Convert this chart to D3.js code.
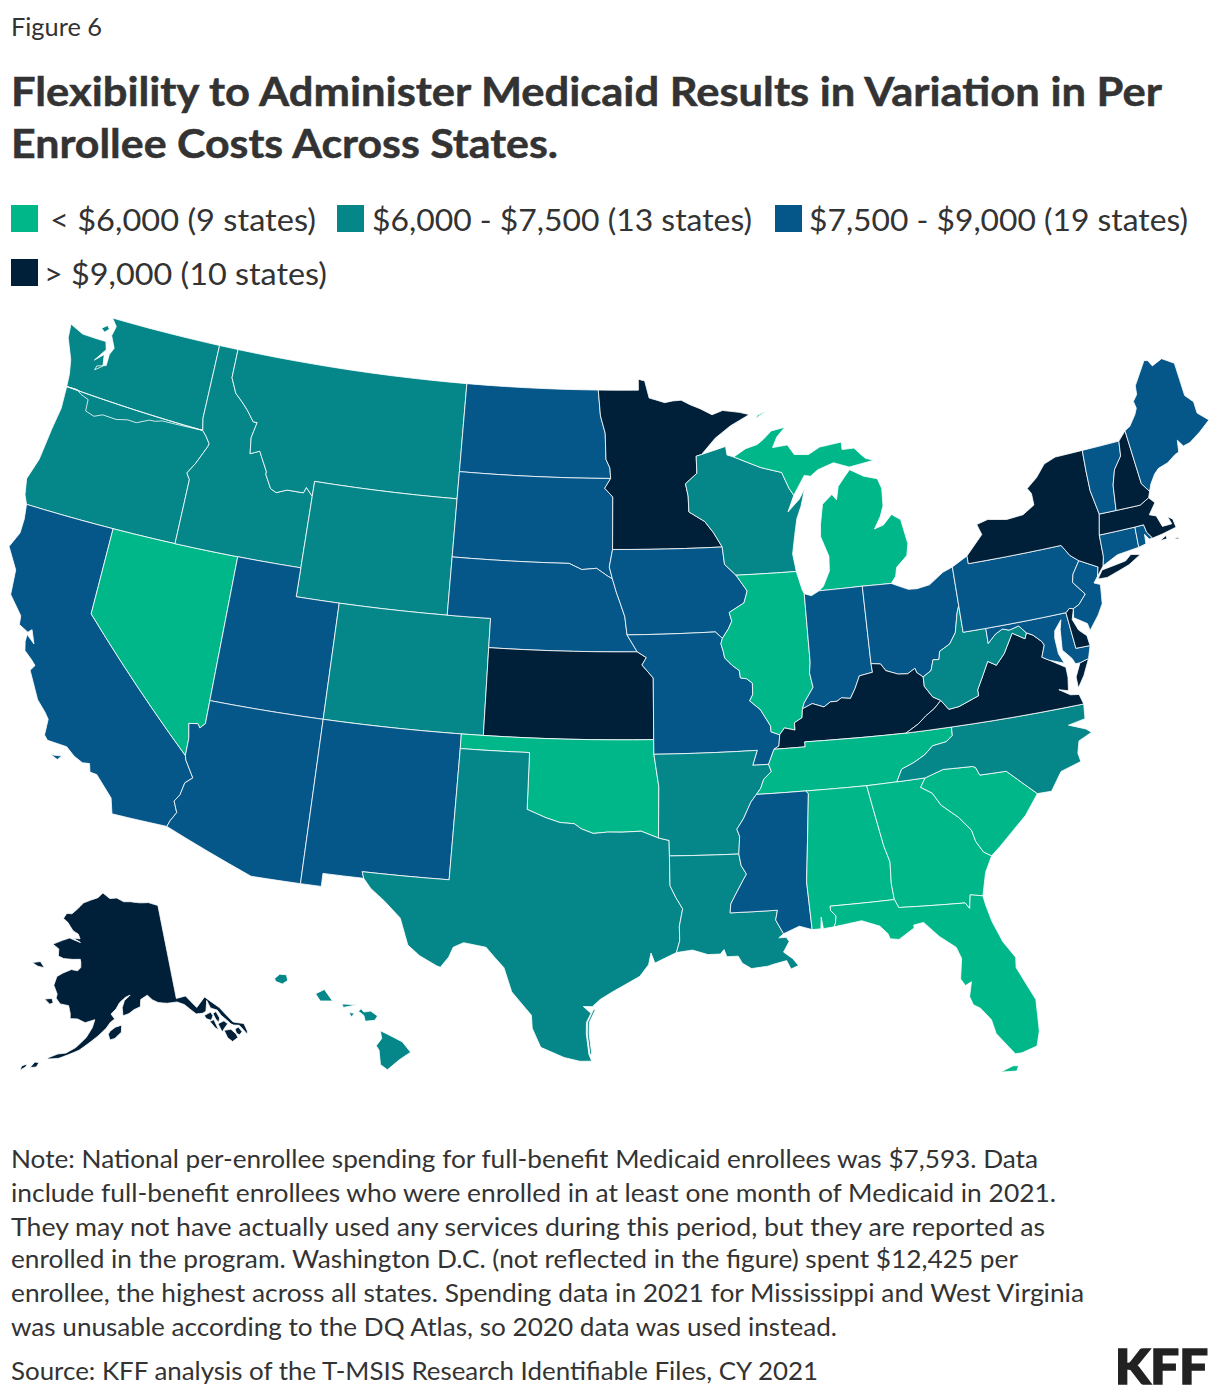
<!DOCTYPE html>
<html>
<head>
<meta charset="utf-8">
<script src="https://cdn.jsdelivr.net/npm/d3@7"></script>
<style>
  html, body { margin: 0; background: #fff; }
  svg { display: block; }
  text { font-family: Lato, "Noto Sans", sans-serif; fill: #333; }
</style>
</head>
<body>
<svg id="chart" width="1220" height="1398"></svg>
<script>
"use strict";

// spending tiers
const tierLabels = ["< $6,000 (9 states)", "$6,000 - $7,500 (13 states)", "$7,500 - $9,000 (19 states)", "> $9,000 (10 states)"];
const tierColors = ["#00b78a", "#058789", "#055789", "#002039"];
const tierLow = ["NV", "OK", "IL", "MI", "TN", "AL", "GA", "SC", "FL"];
const tierMid = ["WA", "OR", "ID", "MT", "WY", "CO", "TX", "LA", "AR", "WI", "WV", "NC", "HI"];
const tierHigh = ["CA", "UT", "AZ", "NM", "ND", "SD", "NE", "IA", "MO", "MS", "IN", "OH", "PA", "NJ", "MD", "CT", "RI", "VT", "ME"];
const tierTop = ["AK", "MN", "KS", "KY", "VA", "NY", "NH", "MA", "DE"];

const figureLabel = "Figure 6";
const titleLines = ["Flexibility to Administer Medicaid Results in Variation in Per", "Enrollee Costs Across States."];
const noteLines = [
  "Note: National per-enrollee spending for full-benefit Medicaid enrollees was $7,593. Data",
  "include full-benefit enrollees who were enrolled in at least one month of Medicaid in 2021.",
  "They may not have actually used any services during this period, but they are reported as",
  "enrolled in the program. Washington D.C. (not reflected in the figure) spent $12,425 per",
  "enrollee, the highest across all states. Spending data in 2021 for Mississippi and West Virginia",
  "was unusable according to the DQ Atlas, so 2020 data was used instead."
];
const sourceLine = "Source: KFF analysis of the T-MSIS Research Identifiable Files, CY 2021";

// shared state lines as [lon, lat], so neighbours meet exactly
const waOr = [[-116.92,46],[-118.98,46],[-119.3,45.93],[-119.6,45.92],[-120.2,45.72],[-120.65,45.74],[-121.2,45.65],[-121.9,45.68],[-122.3,45.55],[-122.76,45.65],[-122.8,46.05],[-123.2,46.15],[-123.45,46.27],[-124,46.27]];
const waId = [[-117.03,49],[-117.04,46.42],[-116.92,46]];
const orCa = [[-124.2,42],[-120,42]];
const orNv = [[-120,42],[-117.03,42]];
const orId = [[-117.03,42],[-117.03,43.83],[-117.03,44.25],[-117.22,44.45],[-116.9,44.85],[-116.5,45.5],[-116.47,45.6],[-116.7,45.83],[-116.92,46]];
const idMt = [[-116.05,49],[-116.05,48],[-115.7,47.5],[-115.3,47.25],[-114.95,47],[-114.55,46.65],[-114.35,46.65],[-114.5,46.1],[-114.4,45.55],[-113.95,45.7],[-113.8,45.5],[-113.45,45.05],[-113.45,44.95],[-113.1,44.5],[-112.8,44.4],[-112.3,44.55],[-111.5,44.55],[-111.4,44.75],[-111.05,44.48]];
const idWy = [[-111.05,44.48],[-111.05,42]];
const idUt = [[-111.05,42],[-114.04,42]];
const idNv = [[-114.04,42],[-117.03,42]];
const ndMt = [[-104.05,49],[-104.05,45.94]];
const sdMt = [[-104.05,45.94],[-104.05,45]];
const mtWy = [[-104.05,45],[-111.05,45],[-111.05,44.48]];
const wyDak = [[-104.05,45],[-104.05,43]];
const wyNe = [[-104.05,43],[-104.05,41]];
const wyCo = [[-104.05,41],[-109.05,41]];
const wyUt = [[-109.05,41],[-111.05,41],[-111.05,42]];
const utCo = [[-109.05,41],[-109.05,37]];
const utAz = [[-109.05,37],[-114.05,37]];
const utNv = [[-114.05,37],[-114.04,42]];
const coNe = [[-104.05,41],[-102.05,41],[-102.05,40]];
const coKs = [[-102.05,40],[-102.04,37]];
const coOk = [[-102.04,37],[-103,37]];
const coNm = [[-103,37],[-109.05,37]];
const nmOk = [[-103,37],[-103,36.5]];
const nmTx = [[-103,36.5],[-103.06,32],[-106.62,32]];
const azNm = [[-109.05,31.33],[-109.05,37]];
const azCa = [[-114.81,32.5],[-114.72,32.72],[-114.52,33.03],[-114.72,33.4],[-114.53,33.65],[-114.43,34.08],[-114.14,34.3],[-114.57,34.85],[-114.63,35]];
const nvAz = [[-114.05,37],[-114.05,36.2],[-114.25,36.02],[-114.37,36.15],[-114.75,36.1],[-114.63,35.6],[-114.63,35]];
const nvCa = [[-114.63,35],[-120,39],[-120,42]];
const mnNd = [[-96.56,45.94],[-96.6,46.3],[-96.8,46.6],[-96.85,47.5],[-97.1,48.1],[-97.23,49]];
const ndSd = [[-96.56,45.94],[-104.05,45.94]];
const neSd = [[-104.05,43],[-98.5,43],[-97.9,42.8],[-97.2,42.85],[-96.7,42.6],[-96.45,42.49]];
const iaSd = [[-96.45,42.49],[-96.6,42.9],[-96.45,43.5]];
const mnSd = [[-96.45,43.5],[-96.45,45.3],[-96.85,45.6],[-96.56,45.94]];
const neIa = [[-96.45,42.49],[-96.25,42],[-96.1,41.7],[-95.87,41.2],[-95.77,40.58]];
const neMo = [[-95.77,40.58],[-95.31,40]];
const neKs = [[-95.31,40],[-102.05,40]];
const ksMo = [[-95.31,40],[-94.9,39.8],[-95.1,39.55],[-94.6,39.1],[-94.62,37]];
const ksOk = [[-94.62,37],[-102.04,37]];
const okMo = [[-94.62,37],[-94.62,36.5]];
const okAr = [[-94.62,36.5],[-94.43,35.4],[-94.48,33.64]];
const okTx = [[-94.48,33.64],[-95.2,33.88],[-96,33.85],[-96.6,33.85],[-97.2,33.8],[-97.7,33.95],[-98,34.12],[-98.6,34.15],[-99.2,34.3],[-100,34.56],[-100,36.5],[-103,36.5]];
const arTx = [[-94.48,33.64],[-94.04,33.55],[-94.04,33.02]];
const laTx = [[-94.04,33.02],[-94.04,32],[-93.82,31.6],[-93.55,31.2],[-93.7,30.6],[-93.7,30.1],[-93.84,29.7]];
const arMo = [[-94.62,36.5],[-90.15,36.5],[-90.38,36],[-89.7,36]];
const arTn = [[-89.7,36],[-89.6,35.75],[-89.95,35.5],[-90.1,35.2],[-90.3,35]];
const arMs = [[-90.3,35],[-90.55,34.75],[-90.9,34.2],[-91.2,33.85],[-91.1,33.6],[-91.17,33]];
const arLa = [[-91.17,33],[-94.04,33.02]];
const laMs = [[-91.17,33],[-91.1,32.6],[-90.9,32.3],[-91.05,32.1],[-91.4,31.6],[-91.6,31.3],[-91.64,31],[-89.73,31],[-89.83,30.67],[-89.55,30.18]];
const iaMo = [[-95.77,40.58],[-91.73,40.61],[-91.42,40.38]];
const moIl = [[-91.42,40.38],[-91.5,40.2],[-91.41,39.93],[-91.36,39.71],[-91.05,39.45],[-90.73,39.25],[-90.7,39],[-90.43,38.96],[-90.18,38.8],[-90.2,38.4],[-90.35,38.2],[-89.9,37.88],[-89.5,37.3],[-89.5,37.1],[-89.13,36.98]];
const moKy = [[-89.13,36.98],[-89.2,36.6],[-89.42,36.5]];
const moTn = [[-89.42,36.5],[-89.7,36]];
const iaMn = [[-96.45,43.5],[-91.22,43.5]];
const iaWi = [[-91.22,43.5],[-91.15,42.9],[-90.64,42.51]];
const iaIl = [[-90.64,42.51],[-90.16,41.95],[-90.34,41.55],[-91.05,41.25],[-90.95,40.95],[-91.12,40.7],[-91.42,40.38]];
const mnWi = [[-92.02,46.71],[-92.29,46.66],[-92.29,46.07],[-92.87,45.72],[-92.76,45.3],[-92.75,44.75],[-92,44.4],[-91.6,44],[-91.22,43.5]];
const wiMi = [[-90.42,46.57],[-89.1,46.14],[-88.1,45.92],[-87.8,45.35],[-87.6,45.1]];
const wiIl = [[-87.8,42.49],[-90.64,42.51]];
const ilIn = [[-87.52,41.71],[-87.53,39.35],[-87.6,39],[-87.5,38.5],[-87.95,38],[-88.05,37.8]];
const ilKy = [[-88.05,37.8],[-88.1,37.5],[-88.45,37.35],[-88.45,37.1],[-88.9,37.2],[-89.13,36.98]];
const inMi = [[-86.82,41.76],[-84.8,41.76]];
const inOh = [[-84.8,41.76],[-84.82,39.1]];
const inKy = [[-84.82,39.1],[-84.8,38.8],[-85.4,38.73],[-85.65,38.32],[-85.9,38],[-86.3,38.05],[-86.5,37.95],[-86.8,37.95],[-87.1,37.8],[-87.6,37.95],[-88.05,37.8]];
const ohMi = [[-84.8,41.76],[-83.45,41.73]];
const ohPa = [[-80.52,41.98],[-80.52,40.64]];
const ohWv = [[-80.52,40.64],[-80.65,40.4],[-80.87,39.75],[-81.2,39.4],[-81.7,39.2],[-81.78,38.93],[-82.05,38.95],[-82.2,38.6],[-82.59,38.42]];
const ohKy = [[-82.59,38.42],[-82.85,38.6],[-82.9,38.75],[-83.25,38.6],[-83.67,38.63],[-84.2,38.8],[-84.4,39.05],[-84.82,39.1]];
const kyWv = [[-82.59,38.42],[-82.6,38.1],[-82.3,37.7],[-81.97,37.54]];
const kyVa = [[-81.97,37.54],[-82.3,37.3],[-82.7,37.1],[-83.1,36.85],[-83.67,36.6]];
const kyTn = [[-83.67,36.6],[-86.5,36.65],[-88.07,36.67],[-88.07,36.5],[-89.42,36.5]];
const tnVa = [[-83.67,36.6],[-81.68,36.59]];
const tnNc = [[-81.68,36.59],[-81.7,36.3],[-82,36.12],[-82.6,36.05],[-83,35.78],[-83.5,35.57],[-84.05,35.4],[-84.32,34.99]];
const tnGa = [[-84.32,34.99],[-85.61,34.98]];
const tnAl = [[-85.61,34.98],[-88.2,35]];
const tnMs = [[-88.2,35],[-90.3,35]];
const msAl = [[-88.2,35],[-88.1,34.9],[-88.47,31.9],[-88.4,30.25]];
const alGa = [[-85.61,34.98],[-85.18,32.87],[-85,32.3],[-85.05,31.55],[-85,31]];
const alFl = [[-85,31],[-87.6,31],[-87.6,30.85],[-87.4,30.65],[-87.45,30.4],[-87.52,30.28]];
const gaNc = [[-84.32,34.99],[-83.11,35]];
const gaSc = [[-83.11,35],[-83.35,34.7],[-82.9,34.45],[-82.6,34],[-81.95,33.5],[-81.5,33],[-81.4,32.6],[-81.15,32.2],[-80.85,32.03]];
const gaFl = [[-81.45,30.72],[-81.95,30.82],[-82.05,30.36],[-82.2,30.57],[-84.86,30.71],[-85,31]];
const scNc = [[-83.11,35],[-82.3,35.2],[-81.05,35.15],[-80.93,35.1],[-80.8,34.82],[-79.67,34.8],[-78.55,33.86]];
const ncVa = [[-75.87,36.55],[-81.68,36.59]];
const vaWv = [[-81.97,37.54],[-81.68,37.2],[-81.22,37.24],[-80.3,37.5],[-80.3,37.7],[-79.95,38.18],[-79.65,38.6],[-79.3,38.42],[-78.87,38.76],[-78.35,39.4],[-77.83,39.13],[-77.72,39.32]];
const vaPotomac = [[-77.72,39.32],[-77.45,39.2],[-77.12,38.93],[-77.04,38.79],[-77.25,38.4],[-76.95,38.25]];
const mdWv = [[-77.72,39.32],[-78,39.6],[-78.45,39.52],[-78.75,39.6],[-79.1,39.47],[-79.49,39.2],[-79.48,39.72]];
const paWv = [[-79.48,39.72],[-80.52,39.72],[-80.52,40.64]];
const paMd = [[-75.79,39.72],[-79.48,39.72]];
const mdDe = [[-75.79,39.72],[-75.69,38.46],[-75.05,38.45]];
const dePa = [[-75.42,39.8],[-75.6,39.84],[-75.79,39.72]];
const njPa = [[-74.7,41.36],[-75.1,40.95],[-75.2,40.68],[-74.75,40.2],[-75.13,39.9],[-75.42,39.8]];
const nyPa = [[-79.76,42.27],[-79.76,42],[-75.35,42],[-75.05,41.6],[-74.7,41.36]];
const njNy = [[-74.7,41.36],[-73.9,41],[-74.02,40.7]];
const nyVt = [[-73.34,45.01],[-73.4,44.3],[-73.43,43.6],[-73.27,42.75]];
const nyMa = [[-73.27,42.75],[-73.5,42.05]];
const nyCt = [[-73.5,42.05],[-73.55,41.3],[-73.66,41]];
const nhVt = [[-71.5,45.01],[-71.6,44.5],[-72.05,44.1],[-72.3,43.6],[-72.46,42.73]];
const maVt = [[-72.46,42.73],[-73.27,42.75]];
const nhMe = [[-71.08,45.3],[-70.98,43.4],[-70.7,43.07]];
const maNh = [[-70.82,42.87],[-71.3,42.7],[-72.46,42.73]];
const maCt = [[-73.5,42.05],[-71.8,42.02]];
const maRi = [[-71.8,42.02],[-71.38,42.02],[-71.33,41.75],[-71.13,41.5]];
const ctRi = [[-71.86,41.32],[-71.8,42.02]];

// coasts and outer borders
const waOuter = [[-124,46.27],[-124.05,46.7],[-124.2,47.2],[-124.65,47.9],[-124.72,48.38],[-124,48.17],[-123.15,48.15],[-122.75,48.15],[-122.62,47.88],[-123.05,47.42],[-122.65,47.7],[-122.55,47.3],[-122.9,47.1],[-122.85,47.25],[-122.4,47.35],[-122.4,47.75],[-122.25,48],[-122.55,48.4],[-122.45,48.75],[-122.76,49],[-117.03,49]];
const orCoast = [[-124,46.27],[-123.95,45.5],[-124.1,44.7],[-124.25,43.6],[-124.55,42.84],[-124.4,42.3],[-124.2,42]];
const caOuter = [[-114.81,32.5],[-117.12,32.53],[-117.3,33.05],[-118.1,33.72],[-118.4,33.75],[-118.5,34.03],[-118.8,34],[-119.2,34.15],[-119.6,34.4],[-120.45,34.45],[-120.63,34.6],[-120.65,35.15],[-120.85,35.35],[-121.3,35.7],[-121.95,36.6],[-121.8,36.8],[-122,36.95],[-122.4,37.2],[-122.5,37.5],[-122.5,37.75],[-122.1,37.5],[-122.35,37.95],[-122.5,37.83],[-122.95,38],[-123,38.3],[-123.7,38.9],[-123.8,39.75],[-124.4,40.45],[-124.1,41],[-124.1,41.5],[-124.2,42]];
const azMex = [[-109.05,31.33],[-111.07,31.33],[-114.81,32.5]];
const nmMex = [[-106.62,32],[-106.53,31.78],[-108.2,31.78],[-108.2,31.33],[-109.05,31.33]];
const txCoast = [[-93.84,29.7],[-94.7,29.35],[-94.85,29.7],[-94.95,29.3],[-95.3,28.9],[-96.4,28.35],[-96.85,28.1],[-97.15,27.85],[-97.5,27.85],[-97.2,27.62],[-97.37,27.3],[-97.37,26.9],[-97.26,26.2],[-97.15,25.96],[-97.6,25.95],[-98.2,26.07],[-99.1,26.4],[-99.45,27.05],[-99.5,27.5],[-100.3,28.28],[-100.65,29.1],[-101.05,29.45],[-101.4,29.77],[-102.3,29.88],[-102.7,29.7],[-102.85,29.35],[-103.15,28.98],[-103.3,29.02],[-104,29.32],[-104.5,29.65],[-104.9,30.55],[-105.6,31.08],[-106.2,31.46],[-106.53,31.78],[-106.62,32]];
const laCoast = [[-89.55,30.18],[-89.75,30.05],[-89.45,30.05],[-89.35,29.9],[-89.6,29.55],[-89.25,29.3],[-89.05,29.05],[-89.35,28.95],[-89.5,29.25],[-90.05,29.15],[-90.25,29.1],[-90.9,29.05],[-91.25,29.25],[-91.4,29.5],[-91.85,29.5],[-91.95,29.75],[-92.1,29.6],[-92.6,29.6],[-93.2,29.77],[-93.84,29.7]];
const msCoast = [[-88.4,30.25],[-88.9,30.4],[-89.55,30.18]];
const alCoast = [[-87.52,30.28],[-87.95,30.25],[-88,30.65],[-88.05,30.25],[-88.4,30.25]];
const flCoast = [[-81.45,30.72],[-81.4,30.4],[-81.25,29.8],[-80.95,29.05],[-80.55,28.45],[-80.6,28.1],[-80.05,26.9],[-80.12,25.8],[-80.3,25.3],[-80.9,25.15],[-81.15,25.15],[-81.75,25.95],[-81.85,26.45],[-82.2,26.9],[-82.45,27.05],[-82.55,27.35],[-82.4,27.85],[-82.65,27.75],[-82.8,28],[-82.65,28.7],[-82.8,29.1],[-83.4,29.55],[-83.95,30.1],[-84.35,30.05],[-84.35,29.95],[-85,29.62],[-85.35,29.68],[-85.4,29.85],[-85.7,30.15],[-86.4,30.4],[-87.52,30.28]];
const gaCoast = [[-80.85,32.03],[-81.2,31.5],[-81.45,30.72]];
const scCoast = [[-78.55,33.86],[-79.2,33.2],[-79.9,32.7],[-80.45,32.3],[-80.85,32.03]];
const ncCoast = [[-78.55,33.86],[-77.95,33.85],[-77.4,34.45],[-76.5,34.65],[-76.55,34.95],[-76.4,35.35],[-75.8,35.55],[-76,35.7],[-76.7,35.95],[-75.95,36.05],[-75.87,36.55]];
const vaCoast = [[-76.95,38.25],[-76.3,37.9],[-76.3,37.55],[-76.4,37.1],[-76.8,37.2],[-76.35,36.95],[-75.98,36.9],[-75.87,36.55]];
const mdCoast = [[-76.95,38.25],[-76.33,38.05],[-76.5,38.4],[-76.52,38.95],[-76.45,39.2],[-76.08,39.52],[-76.2,39.2],[-76.25,38.85],[-76.3,38.5],[-75.95,38.15],[-75.85,37.95],[-75.65,37.95],[-75.24,38.03],[-75.05,38.45]];
const deCoast = [[-75.05,38.45],[-75.09,38.8],[-75.4,39.05],[-75.58,39.45],[-75.42,39.8]];
const njCoast = [[-74.02,40.7],[-74.25,40.5],[-73.98,40.4],[-74.1,39.75],[-74.4,39.4],[-74.9,38.95],[-74.95,39.2],[-75.5,39.5],[-75.42,39.8]];
const nyLake = [[-79.76,42.27],[-78.9,42.9],[-79.05,43.27],[-78.5,43.37],[-77.6,43.25],[-76.8,43.3],[-76.2,43.55],[-76.2,43.95],[-76.35,44.15],[-75.8,44.45],[-75.3,44.85],[-74.7,45],[-73.34,45.01]];
const nyCoast = [[-73.66,41],[-73.9,40.8],[-74.02,40.7]];
const ctCoast = [[-73.66,41],[-72.9,41.25],[-71.86,41.32]];
const riCoast = [[-71.86,41.32],[-71.5,41.37],[-71.45,41.7],[-71.3,41.5],[-71.13,41.5]];
const maCoast = [[-71.13,41.5],[-70.65,41.55],[-69.95,41.65],[-70,41.95],[-70.2,42.07],[-70.1,41.8],[-70.55,41.8],[-70.7,42.2],[-71,42.3],[-70.6,42.65],[-70.82,42.87]];
const meOuter = [[-71.08,45.3],[-70.8,45.4],[-70.4,45.75],[-70.25,45.95],[-70.3,46.2],[-70.05,46.4],[-70,46.7],[-69.23,47.46],[-69.05,47.42],[-68.9,47.2],[-68.35,47.35],[-67.8,47.07],[-67.78,45.9],[-67.45,45.6],[-67.45,45.2],[-67,44.85],[-67.6,44.55],[-68.2,44.3],[-68.55,44.25],[-68.75,44.5],[-68.85,44.1],[-69.05,44.05],[-69.5,43.85],[-70,43.75],[-70.25,43.6],[-70.55,43.3],[-70.7,43.07]];
const mnOuter = [[-97.23,49],[-95.15,49],[-95.15,49.38],[-94.82,49.32],[-94.6,48.72],[-94.25,48.65],[-93.8,48.55],[-93.4,48.6],[-92.95,48.62],[-92.5,48.45],[-92,48.3],[-91.4,48.07],[-90.85,48.2],[-90,48.1],[-89.5,48],[-90.5,47.65],[-91.3,47.25],[-92.02,46.71]];
const wiSuperior = [[-92.02,46.71],[-91.2,46.87],[-90.8,46.95],[-90.75,46.65],[-90.42,46.57]];
const wiMichigan = [[-87.6,45.1],[-87.95,44.55],[-87.35,44.95],[-87.05,45.28],[-87.3,44.7],[-87.55,44.3],[-87.72,43.75],[-87.9,43.1],[-87.8,42.49]];
const ilLake = [[-87.8,42.49],[-87.6,41.85],[-87.52,41.71]];
const inLake = [[-87.52,41.71],[-87.2,41.62],[-86.82,41.76]];
const ohLake = [[-83.45,41.73],[-83.1,41.6],[-82.7,41.45],[-82.3,41.43],[-81.7,41.5],[-81,41.85],[-80.52,41.98]];
const paLake = [[-80.52,41.98],[-79.76,42.27]];
const miLower = [[-83.45,41.73],[-83.2,41.95],[-83.1,42.25],[-82.55,42.6],[-82.42,43],[-82.6,43.85],[-83,44.07],[-83.45,43.75],[-83.9,43.65],[-83.55,44.05],[-83.35,44.4],[-83.3,45],[-83.45,45.35],[-84.1,45.5],[-84.75,45.78],[-85.1,45.5],[-85.4,45.25],[-85.55,44.8],[-85.75,45],[-86.25,44.7],[-86.45,44],[-86.5,43.6],[-86.2,42.9],[-86.25,42.4],[-86.6,41.9],[-86.82,41.76]];
const miUpper = [[-87.6,45.1],[-87,45.75],[-86.7,45.7],[-86.3,45.9],[-85.5,46.08],[-84.75,45.87],[-84,45.95],[-83.5,46],[-83.9,46.1],[-84.1,46.25],[-84.4,46.5],[-85,46.5],[-85,46.76],[-86.1,46.67],[-86.7,46.45],[-87.4,46.5],[-87.7,46.85],[-88.45,46.8],[-88.2,47.15],[-87.75,47.47],[-88.45,47.38],[-88.9,47.1],[-89.2,46.95],[-89.8,46.83],[-90.42,46.57]];
const akMainland = [[-141,69.65],[-143.5,70.1],[-146,70.2],[-148.5,70.4],[-150.5,70.45],[-152.5,70.85],[-154.5,70.8],[-156.6,71.35],[-158,70.85],[-160,70.55],[-162,70.2],[-163.5,69.5],[-164.8,68.95],[-166.2,68.9],[-166.8,68.35],[-165.5,68.05],[-163.8,67.3],[-162.4,67.05],[-161.8,66.6],[-163.5,66.6],[-161.6,66.25],[-164.4,66.55],[-166,66.2],[-168.1,65.65],[-166.5,65.3],[-166.3,64.6],[-165,64.45],[-163,64.5],[-161.2,64.6],[-161,64.3],[-160.9,63.8],[-161.5,63.45],[-162.9,63.5],[-164.6,63.05],[-165.8,62.6],[-166.1,61.7],[-165.1,60.9],[-165.2,60.5],[-164.2,60],[-162.5,59.95],[-162,59.2],[-161.9,58.7],[-160.5,58.75],[-159,58.45],[-157.2,58.8],[-157.6,58],[-158.6,57],[-160.3,55.95],[-161.9,55.3],[-163.3,55.1],[-164.8,54.6],[-164.9,54.45],[-163,54.7],[-161.5,55.15],[-159.7,55.7],[-158.2,56.4],[-156.5,57.2],[-155,58],[-154.2,58.6],[-153.4,58.9],[-154.1,59.4],[-153.1,59.9],[-152.4,60.5],[-151.2,61],[-150.2,61.2],[-151,60.85],[-151.4,60.7],[-151.9,60],[-151.8,59.2],[-150.6,59.4],[-149.6,59.75],[-148.3,60],[-148.1,60.7],[-146.7,61.05],[-145.8,60.55],[-144.7,60.2],[-143,60],[-141,59.95],[-139.7,59.55],[-137.9,58.4],[-136.7,58.3],[-136,58.4],[-135.5,59.1],[-135.3,59.4],[-135,58.6],[-133.9,58.2],[-133.5,57.6],[-132.8,57],[-132.3,56.5],[-131.9,56.3],[-131,56.1],[-130.6,55.6],[-130.2,55],[-130,55.3],[-130.1,56.1],[-131.8,56.6],[-133.4,58.4],[-135.5,59.8],[-137.5,59],[-139.1,60.35],[-141,60.3]];

// whole rings are chained from the lines above, reversed where walked backwards
const rev = line => line.slice().reverse();
const chain = (...lines) => [lines.flat()];

const stateShapes = {
  WA: [chain(waOuter, waId, waOr), [[[-123.15,48.55],[-122.9,48.7],[-122.75,48.6],[-122.95,48.45]]]],
  OR: [chain(rev(waOr), orCoast, orCa, orNv, orId)],
  CA: [chain(orCa, rev(nvCa), rev(azCa), caOuter), [[[-120.15,34],[-119.7,34.05],[-119.85,33.9]]]],
  NV: [chain(orNv, rev(idNv), rev(utNv), nvAz, nvCa)],
  ID: [chain([[-117.03,49]], idMt, idWy, idUt, idNv, orId, rev(waId))],
  MT: [chain([[-116.05,49]], ndMt, sdMt, mtWy, rev(idMt))],
  WY: [chain(rev(mtWy), wyDak, wyNe, wyCo, wyUt, rev(idWy))],
  UT: [chain(rev(idUt), rev(wyUt), utCo, utAz, utNv)],
  AZ: [chain(rev(utAz), rev(azNm), azMex, azCa, rev(nvAz))],
  CO: [chain(rev(wyCo), coNe, coKs, coOk, coNm, rev(utCo))],
  NM: [chain(rev(coNm), nmOk, nmTx, nmMex, azNm)],
  ND: [chain([[-104.05,49]], rev(mnNd), ndSd, rev(ndMt))],
  SD: [chain(ndSd, sdMt, wyDak, neSd, iaSd, mnSd)],
  NE: [chain(neSd, neIa, neMo, neKs, rev(coNe), rev(wyNe))],
  KS: [chain(rev(neKs), ksMo, ksOk, rev(coKs))],
  OK: [chain(rev(coOk), rev(ksOk), okMo, okAr, okTx, rev(nmOk))],
  TX: [chain(rev(okTx), arTx, laTx, txCoast, rev(nmTx)), [[[-97.1,27.75],[-97.33,27.3],[-97.33,26.9],[-97.22,26.2],[-97.15,26.2],[-97.26,26.9],[-97.26,27.3],[-97.03,27.75]]]],
  MN: [chain(mnOuter, mnWi, rev(iaMn), mnSd, mnNd)],
  IA: [chain(iaMn, iaWi, iaIl, rev(iaMo), rev(neIa), iaSd)],
  MO: [chain(iaMo, moIl, moKy, moTn, rev(arMo), rev(okMo), rev(ksMo), rev(neMo))],
  AR: [chain(rev(okAr), arMo, arTn, arMs, arLa, rev(arTx))],
  LA: [chain(rev(arLa), laMs, laCoast, rev(laTx))],
  WI: [chain(wiSuperior, wiMi, wiMichigan, wiIl, rev(iaWi), rev(mnWi))],
  IL: [chain(rev(wiIl), ilLake, ilIn, ilKy, rev(moIl), rev(iaIl))],
  MI: [chain(inMi, ohMi, miLower), chain(wiMi, miUpper), [[[-89.2,47.85],[-88.45,48.15],[-88.6,48.1],[-89.1,47.95]]]],
  IN: [chain(inLake, inMi, inOh, inKy, rev(ilIn))],
  OH: [chain(ohMi, ohLake, ohPa, ohWv, ohKy, rev(inOh))],
  KY: [chain(rev(ohKy), kyWv, kyVa, kyTn, rev(moKy), rev(ilKy), rev(inKy))],
  TN: [chain(rev(kyTn), tnVa, tnNc, tnGa, tnAl, tnMs, rev(arTn), rev(moTn))],
  MS: [chain(rev(tnMs), msAl, msCoast, rev(laMs), rev(arMs))],
  AL: [chain(rev(tnAl), alGa, alFl, alCoast, rev(msAl))],
  GA: [chain(rev(tnGa), gaNc, gaSc, gaCoast, gaFl, rev(alGa))],
  FL: [chain(rev(gaFl), flCoast, rev(alFl)), [[[-81.8,24.6],[-81.3,24.75],[-81.1,24.72],[-81.2,24.55]]]],
  SC: [chain(scNc, scCoast, rev(gaSc))],
  NC: [chain(ncVa, tnNc, gaNc, scNc, ncCoast)],
  VA: [chain(vaPotomac, vaCoast, ncVa, rev(tnVa), rev(kyVa), vaWv), [[[-75.65,37.95],[-75.24,38.03],[-75.6,37.5],[-75.95,37.12],[-75.95,37.5]]]],
  WV: [chain(ohWv, kyWv, vaWv, mdWv, paWv)],
  MD: [chain([[-79.48,39.72]], mdDe, rev(mdCoast), rev(vaPotomac), mdWv)],
  DE: [chain(dePa, mdDe, deCoast)],
  PA: [chain(paLake, nyPa, njPa, dePa, paMd, paWv, rev(ohPa))],
  NJ: [chain(rev(njPa), njNy, njCoast)],
  NY: [chain(nyLake, nyVt, nyMa, nyCt, nyCoast, rev(njNy), rev(nyPa)), [[[-74.03,40.6],[-73.75,40.87],[-72.6,40.98],[-72.3,41.15],[-71.87,41.07],[-72.5,40.82],[-73.6,40.58]]]],
  CT: [chain(rev(maCt), nyCt, ctCoast, ctRi)],
  RI: [chain(rev(ctRi), riCoast, rev(maRi))],
  MA: [chain(maNh, maVt, nyMa, maCt, maRi, maCoast), [[[-70.83,41.35],[-70.5,41.47],[-70.5,41.35]]], [[[-70.2,41.3],[-69.97,41.3],[-70,41.24]]]],
  VT: [chain([[-73.34,45.01]], nhVt, maVt, rev(nyVt))],
  NH: [chain([[-71.5,45.01]], nhMe, maNh, rev(nhVt))],
  ME: [chain(meOuter, rev(nhMe))],
  AK: [
    chain(akMainland),
    [[[-154.6,57.4],[-154.3,57.7],[-153.3,58.1],[-152.1,58.3],[-152.2,57.6],[-153.4,57],[-154.3,56.85]]],
    [[[-167.4,60.2],[-166,60.4],[-165.6,60],[-166.2,59.8]]],
    [[[-171.7,63.4],[-170,63.7],[-168.8,63.2],[-170.3,63.2]]],
    [[[-136.5,58.05],[-135.2,58.2],[-134.95,57.8],[-135.5,57.4],[-136.3,57.7]]],
    [[[-135.8,57.35],[-135,57.4],[-134.7,56.3],[-135.2,56.6]]],
    [[[-134.85,58],[-134.2,58.1],[-133.9,57.4],[-134.3,57],[-134.65,57.4]]],
    [[[-134.5,56.9],[-133.3,57],[-132.85,56.6],[-133.6,56.3],[-134.2,56]]],
    [[[-133.8,56.1],[-132.6,56],[-132,55.4],[-131.9,55],[-133,54.8],[-133.6,55.3]]],
    [[[-131.9,55.9],[-131.2,55.95],[-130.9,55.4],[-131.5,55.2],[-131.9,55.45]]],
    [[[-166.9,53.95],[-166.2,53.95],[-166.5,53.5],[-167.5,53.3]]],
    [[[-168.9,53.3],[-168.1,53.6],[-168.2,53.3],[-169,52.85]]]
  ],
  HI: [
    [[[-155.9,20.27],[-155.6,20.13],[-155.1,19.88],[-154.8,19.52],[-155.2,19.27],[-155.65,18.92],[-155.9,19.1],[-155.95,19.6],[-156.05,19.75],[-155.85,20]]],
    [[[-156.7,20.95],[-156.6,21.03],[-156.5,20.92],[-156.25,20.95],[-156,20.78],[-156.1,20.63],[-156.45,20.6],[-156.5,20.8]]],
    [[[-157.3,21.2],[-156.75,21.17],[-157.25,21.08]]],
    [[[-157.05,20.9],[-156.85,20.88],[-156.95,20.75]]],
    [[[-158.27,21.55],[-158.1,21.3],[-157.65,21.3],[-157.8,21.5],[-157.95,21.7]]],
    [[[-159.78,22.07],[-159.6,22.22],[-159.35,22.2],[-159.3,22],[-159.5,21.88],[-159.75,21.97]]]
  ]
};

// long edges follow parallels, so walk them in small steps before projecting
function stepEdges(ring) {
  const closed = ring.concat([ring[0]]);
  const out = [];
  for (let i = 0; i < closed.length - 1; i++) {
    const a = closed[i], b = closed[i + 1];
    const n = Math.max(1, Math.ceil(Math.max(Math.abs(b[0] - a[0]), Math.abs(b[1] - a[1]))));
    for (let k = 0; k < n; k++) out.push([a[0] + (b[0] - a[0]) * k / n, a[1] + (b[1] - a[1]) * k / n]);
  }
  out.push(out[0]);
  return out;
}

function toFeature(id) {
  const polygons = stateShapes[id].map(poly => {
    let ring = stepEdges(poly[0]);
    // d3 wants the small side inside, whichever way the ring was typed
    if (d3.geoArea({type: "Polygon", coordinates: [ring]}) > 2 * Math.PI) ring = ring.reverse();
    return [ring];
  });
  return {type: "Feature", id: id, geometry: {type: "MultiPolygon", coordinates: polygons}};
}

const tierOf = new Map();
[tierLow, tierMid, tierHigh, tierTop].forEach((list, i) => list.forEach(s => tierOf.set(s, i)));
const color = d3.scaleOrdinal().domain([0, 1, 2, 3]).range(tierColors);

const svg = d3.select("#chart");

const features = Object.keys(stateShapes).map(toFeature);
const contiguous = features.filter(f => f.id !== "AK" && f.id !== "HI");
const alaska = features.filter(f => f.id === "AK");
const hawaii = features.filter(f => f.id === "HI");

// same recipe as geoAlbersUsa, but the insets sit a little differently here
const mainProjection = d3.geoConicEqualArea().parallels([29.5, 45.5]).rotate([96, 0]).center([0, 38.7])
  .scale(1664).translate([622, 690]);
const alaskaProjection = d3.geoConicEqualArea().parallels([55, 65]).rotate([154, 0]).center([-2, 58.5])
  .scale(582).translate([101, 1023]);
const hawaiiProjection = d3.geoConicEqualArea().parallels([8, 18]).rotate([157, 0]).center([-3, 19.9])
  .scale(1664).translate([268, 1041]);

function drawStates(list, projection) {
  const path = d3.geoPath(projection);
  svg.append("g").selectAll("path")
    .data(list)
    .join("path")
    .attr("d", path)
    .attr("fill", d => color(tierOf.get(d.id)))
    .attr("stroke", "#fff")
    .attr("stroke-width", 0.8)
    .attr("stroke-linejoin", "round");
}

drawStates(contiguous, mainProjection);
drawStates(alaska, alaskaProjection);
drawStates(hawaii, hawaiiProjection);

// text is fitted to the measured line widths since the original face isn't installed
function addLine(str, x, y, size, right, weight) {
  return svg.append("text")
    .attr("x", x).attr("y", y)
    .attr("font-size", size)
    .attr("font-weight", weight || 400)
    .attr("textLength", right - x)
    .attr("lengthAdjust", "spacingAndGlyphs")
    .text(str);
}

addLine(figureLabel, 11, 36, 25, 102);
addLine(titleLines[0], 11, 106, 41, 1162, 700).style("stroke", "#333").style("stroke-width", 0.5);
addLine(titleLines[1], 11, 158, 41, 558, 700).style("stroke", "#333").style("stroke-width", 0.5);

const legendSpots = [[11, 205, 50, 316], [337, 205, 372, 752], [775, 205, 809, 1188], [11, 259, 44, 327]];
svg.append("g").selectAll("rect")
  .data(tierLabels)
  .join("rect")
  .attr("x", (d, i) => legendSpots[i][0])
  .attr("y", (d, i) => legendSpots[i][1])
  .attr("width", 27)
  .attr("height", 27)
  .attr("fill", (d, i) => color(i));
tierLabels.forEach((label, i) => {
  addLine(label, legendSpots[i][2], legendSpots[i][1] + 26, 31, legendSpots[i][3]);
});

const noteEnds = [1038, 1056, 1045, 1018, 1084, 837];
const noteBase = [1168, 1202, 1236, 1268, 1302, 1336];
noteLines.forEach((line, i) => addLine(line, 11, noteBase[i], 25, noteEnds[i]));
addLine(sourceLine, 11, 1380, 25, 818);
addLine("KFF", 1115, 1384, 48, 1208, 900).style("fill", "#222").style("stroke", "#222").style("stroke-width", 1.6);
</script>
</body>
</html>
